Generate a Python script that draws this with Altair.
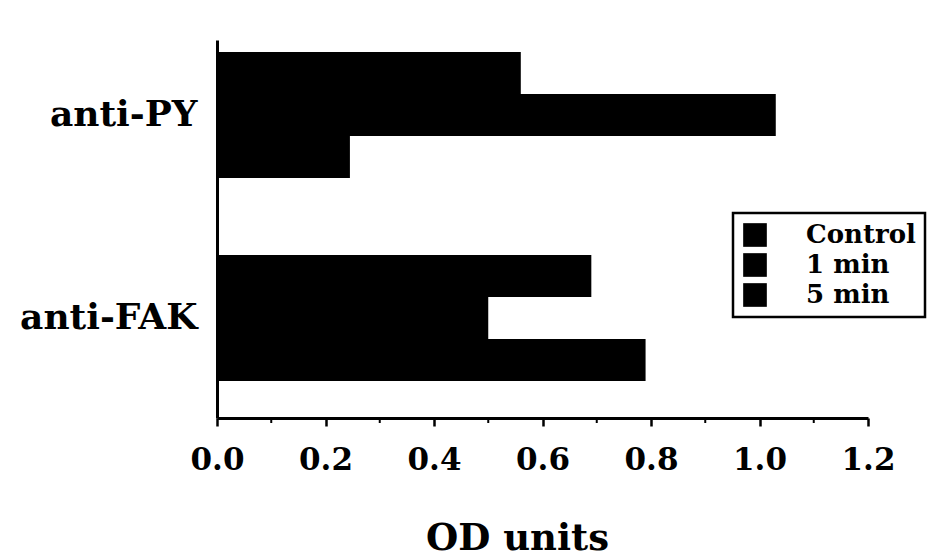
import altair as alt
import pandas as pd

groups = ["anti-PY", "anti-FAK"]
series = ["Control", "1 min", "5 min"]
anti_py = [0.56, 1.03, 0.245]
anti_fak = [0.69, 0.50, 0.79]
x_ticks = [0.0, 0.2, 0.4, 0.6, 0.8, 1.0, 1.2]
minor_ticks = [0.1, 0.3, 0.5, 0.7, 0.9, 1.1]

rows = []
for g, vals in zip(groups, [anti_py, anti_fak]):
    for s, v in zip(series, vals):
        rows.append({"group": g, "series": s, "value": v})
df = pd.DataFrame(rows)
minor_df = pd.DataFrame({"value": minor_ticks})

W, H = 651, 378
FONT = "DejaVu Serif"

xscale = alt.Scale(domain=[0, 1.2], nice=False, zero=True)
xaxis = alt.Axis(values=x_ticks, format=".1f", title="OD units",
                 domainWidth=3, domainColor="black", tickColor="black",
                 tickWidth=2.5, tickSize=8, labelPadding=19,
                 labelFont=FONT, labelFontWeight="bold", labelFontSize=31,
                 labelColor="black", titleFont=FONT, titleFontWeight="bold",
                 titleFontSize=37, titleColor="black", titlePadding=45,
                 titleX=300, titleAlign="center",
                 grid=False, labelFlush=False)

bars = alt.Chart(df).mark_bar(color="black").encode(
    x=alt.X("value:Q", scale=xscale, axis=xaxis),
    y=alt.Y("group:N", sort=groups,
            scale=alt.Scale(paddingInner=0.379, paddingOuter=0.1207, align=0.245),
            axis=alt.Axis(title=None, ticks=False, domainWidth=3, domainColor="black",
                          labelPadding=20, labelFont=FONT, labelFontWeight="bold",
                          labelFontSize=36, labelColor="black")),
    yOffset=alt.YOffset("series:N", sort=series,
                        scale=alt.Scale(paddingInner=0, paddingOuter=0)),
    color=alt.Color("series:N", sort=series,
                    scale=alt.Scale(domain=series, range=["black", "black", "black"]),
                    legend=alt.Legend(title=None, orient="none", legendX=516, legendY=173,
                                      strokeColor="black", padding=9,
                                      symbolType="square", symbolSize=560,
                                      symbolStrokeWidth=0, symbolFillColor="black",
                                      labelFont=FONT, labelFontWeight="bold",
                                      labelFontSize=26, labelColor="black",
                                      labelOffset=38, rowPadding=4, fillColor="white")),
)

minor = alt.Chart(minor_df).mark_rule(color="black", strokeWidth=2).encode(
    x=alt.X("value:Q", scale=xscale, axis=xaxis),
    y=alt.value(H),
    y2=alt.value(H + 5),
)

chart = alt.layer(bars, minor).properties(
    width=W, height=H,
    autosize=alt.AutoSizeParams(type="none"),
    padding={"left": 217, "top": 40, "right": 73, "bottom": 140},
).configure(
    background="white",
    view=alt.ViewConfig(stroke=None),
    legend=alt.LegendConfig(strokeWidth=2.5),
)

chart.save("out.html", embed_options={"renderer": "svg", "actions": False})
